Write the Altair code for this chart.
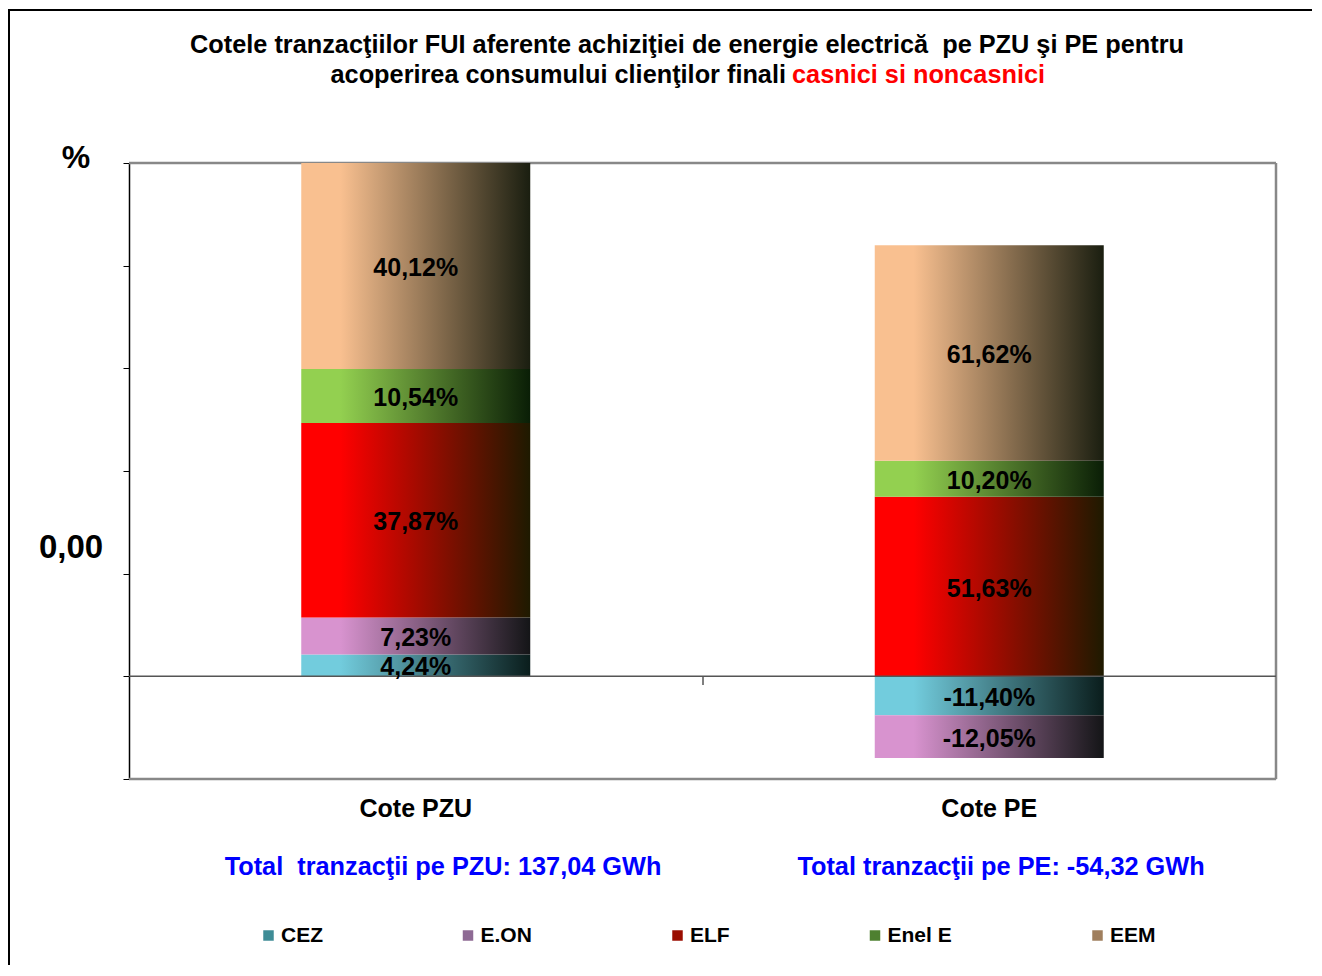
import altair as alt
import pandas as pd

# ---------------- data ----------------
categories = ["Cote PZU", "Cote PE"]
series = ["CEZ", "E.ON", "ELF", "Enel E", "EEM"]
# plotted segment heights (PZU scale = percent)
pzu_heights = [4.24, 7.23, 37.87, 10.54, 40.12]
pe_heights = [-7.6, -8.3, 35.0, 7.0, 42.0]
# printed labels
pzu_labels = ["4,24%", "7,23%", "37,87%", "10,54%", "40,12%"]
pe_labels = ["-11,40%", "-12,05%", "51,63%", "10,20%", "61,62%"]
totals = ["Total \u00a0tranzacţii pe PZU: 137,04 GWh", "Total tranzacţii pe PE: -54,32 GWh"]
title_line1 = "Cotele tranzacţiilor FUI aferente achiziţiei de energie electrică \u00a0pe PZU şi PE pentru"
title_line2_black = "acoperirea consumului clienţilor finali"
title_line2_red = "casnici si noncasnici"
y_label_text = "0,00"
y_label_pos = [25]

# ---------------- styles ----------------
light = ["#72CCDD", "#D893CF", "#FF0000", "#93D050", "#F9C090"]
dark = ["#0A1D1C", "#141517", "#1E1A00", "#0A1E06", "#1A1E10"]
legend_colors = ["#3E8C96", "#8E6A94", "#9A0D00", "#4E8030", "#A07F5E"]
FONT = "Liberation Sans"
W, H = 1147, 616

rows = []
for cat, hs, ls in [(categories[0], pzu_heights, pzu_labels), (categories[1], pe_heights, pe_labels)]:
    for i, (s, h, l) in enumerate(zip(series, hs, ls)):
        rows.append({"cat": cat, "series": s, "order": i, "v": h, "label": l})
df = pd.DataFrame(rows)

xscale = alt.Scale(domain=categories, paddingInner=0, paddingOuter=0)
yscale = alt.Scale(domain=[-20, 100], nice=False, zero=False)
xaxis = alt.Axis(title=None, labelFontSize=25, labelFontWeight="bold", labelColor="black",
                 labelFont=FONT, domain=False, ticks=False, tickSize=0, labelPadding=17, labelAngle=0)
yaxis = alt.Axis(title=None, labels=False, grid=False, values=[-20, 0, 20, 40, 60, 80, 100],
                 domainColor="black", domainWidth=1.5, tickColor="black", tickSize=6, tickWidth=1)

X = alt.X("cat:N", scale=xscale, axis=xaxis, sort=categories)

base = alt.Chart(df).transform_stack(
    stack="v", groupby=["cat"], as_=["y0", "y1"], sort=[alt.SortField("order", "ascending")]
).transform_calculate(mid="(datum.y0 + datum.y1) / 2")

# plot-area border (grey, as in the reference)
one = pd.DataFrame({"a": [0]})
border = [
    alt.Chart(one).mark_rule(color="#888888", strokeWidth=2.5).encode(
        x=alt.value(0), x2=alt.value(W), y=alt.value(0)),
    alt.Chart(one).mark_rule(color="#888888", strokeWidth=2.5).encode(
        x=alt.value(0), x2=alt.value(W), y=alt.value(H)),
    alt.Chart(one).mark_rule(color="#888888", strokeWidth=2.5).encode(
        x=alt.value(W), y=alt.value(0), y2=alt.value(H)),
]

layers = []
for s, lc, dc in zip(series, light, dark):
    grad = alt.LinearGradient(
        gradient="linear", x1=0, x2=1, y1=0, y2=0,
        stops=[alt.GradientStop(offset=0, color=lc),
               alt.GradientStop(offset=0.17, color=lc),
               alt.GradientStop(offset=1, color=dc)],
    )
    layers.append(
        base.transform_filter(alt.datum.series == s)
        .mark_bar(size=229, color=grad, strokeWidth=0)
        .encode(x=X, y=alt.Y("y0:Q", scale=yscale, axis=yaxis), y2="y1:Q")
    )

zero = alt.Chart(pd.DataFrame({"z": [0]})).mark_rule(color="#555555", strokeWidth=1.5).encode(
    y=alt.Y("z:Q", scale=yscale, axis=yaxis))

labels = base.mark_text(fontSize=25, fontWeight="bold", font=FONT, color="black", dy=2).encode(
    x=X, y=alt.Y("mid:Q", scale=yscale, axis=yaxis), text="label:N")

legend_layer = base.mark_square(opacity=0).encode(
    x=X, y=alt.Y("mid:Q", scale=yscale, axis=yaxis),
    color=alt.Color("series:N", scale=alt.Scale(domain=series, range=legend_colors),
                    legend=alt.Legend(title=None, orient="none", legendX=129, legendY=762,
                                      direction="horizontal", columns=5, gridAlign="none",
                                      columnPadding=134.5, labelFontSize=21, labelFontWeight="bold",
                                      labelFont=FONT, labelColor="black", labelOffset=2,
                                      symbolType="square", symbolSize=110, symbolOpacity=1,
                                      symbolStrokeWidth=0, padding=0)))

def txt(text, x, y, size, color="black", align="center"):
    return alt.Chart(pd.DataFrame({"t": [text]})).mark_text(
        fontSize=size, fontWeight="bold", font=FONT, color=color, align=align, baseline="middle"
    ).encode(x=alt.value(x), y=alt.value(y), text="t:N")

y_lab = alt.Chart(pd.DataFrame({"v": y_label_pos, "t": [y_label_text]})).mark_text(
    fontSize=33, fontWeight="bold", font=FONT, color="black", baseline="middle").encode(
    x=alt.value(-58), y=alt.Y("v:Q", scale=yscale, axis=yaxis), text="t:N")

annotations = [
    txt(title_line1, 558, -118, 25.3),
    txt(title_line2_black, 657, -88, 25.3, align="right"),
    txt(title_line2_red, 663, -88, 25.3, color="#FF0000", align="left"),
    txt("%", -53, -5, 32),
    txt(totals[0], 314, 704, 25.3, color="#0000FF"),
    txt(totals[1], 872, 704, 25.3, color="#0000FF"),
]

frame_top = alt.Chart(one).mark_rule(color="black", strokeWidth=2).encode(
    x=alt.value(-121), x2=alt.value(1200), y=alt.value(-153))
frame_left = alt.Chart(one).mark_rule(color="black", strokeWidth=2).encode(
    x=alt.value(-120), y=alt.value(-153), y2=alt.value(820))
mid_tick = alt.Chart(one).mark_rule(color="black", strokeWidth=1).encode(
    x=alt.value(574), y=alt.value(514), y2=alt.value(522))

chart = alt.layer(
    *border, *layers, zero, mid_tick, labels, legend_layer, y_lab, *annotations, frame_top, frame_left
).properties(
    width=W, height=H,
    padding={"left": 121, "top": 155, "right": 36, "bottom": 186},
    autosize=alt.AutoSizeParams(type="none"),
).configure_view(stroke=None).configure(font=FONT)

chart.save("out.html", embed_options={"renderer": "svg", "actions": False})
